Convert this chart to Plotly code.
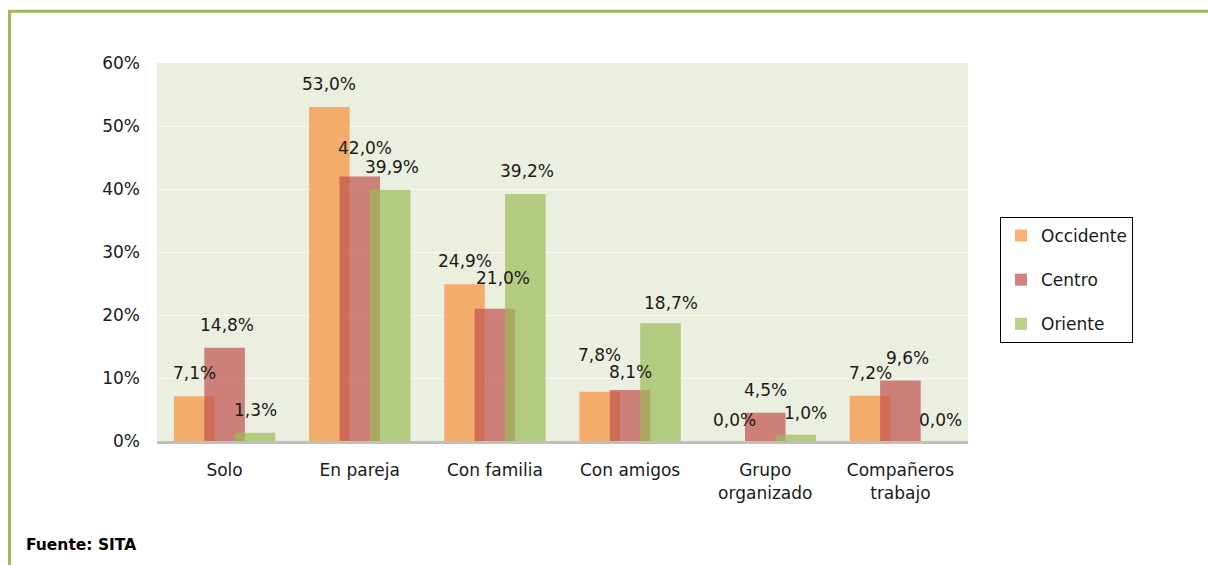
import plotly.graph_objects as go

categories = ["Solo", "En pareja", "Con familia", "Con amigos", "Grupo<br>organizado", "Compañeros<br>trabajo"]
series_names = ["Occidente", "Centro", "Oriente"]
occidente = [7.1, 53.0, 24.9, 7.8, 0.0, 7.2]
centro = [14.8, 42.0, 21.0, 8.1, 4.5, 9.6]
oriente = [1.3, 39.9, 39.2, 18.7, 1.0, 0.0]
y_ticks = [0, 10, 20, 30, 40, 50, 60]
y_tick_labels = ["0%", "10%", "20%", "30%", "40%", "50%", "60%"]

values = [occidente, centro, oriente]
colors = ["rgba(247,150,70,0.75)", "rgba(192,80,77,0.7)", "rgba(155,187,89,0.7)"]
offsets = [-0.375, -0.15, 0.075]
bar_w = 0.3

# label nudges (pixels) to mimic original placement: (series, category) -> (dx, dy)
label_nudge = {(1, 0): (2, 0), (1, 1): (5, 5), (2, 1): (2, 0), (1, 2): (8, 8),
               (2, 2): (2, 0), (0, 3): (0, 14), (1, 3): (0, -5), (2, 3): (10, -3),
               (0, 4): (0, -2), (2, 4): (10, -1), (1, 5): (7, 0), (2, 5): (10, -2)}

fig = go.Figure()
font = "DejaVu Sans"
fs = 17
for s, (name, vals) in enumerate(zip(series_names, values)):
    fig.add_trace(go.Bar(
        x=list(range(len(categories))), y=vals, name=name,
        marker=dict(color=colors[s], line=dict(width=0)),
        width=bar_w, offset=offsets[s], legendgroup=name,
    ))
    for i, v in enumerate(vals):
        dx, dy = label_nudge.get((s, i), (0, 0))
        fig.add_annotation(
            x=i + offsets[s] + bar_w / 2, y=v, xref="x", yref="y",
            text=f"{v:.1f}%".replace(".", ","), showarrow=False,
            yanchor="middle", yshift=23 + dy, xshift=dx,
            font=dict(family=font, size=fs, color="#1a1a1a"),
        )

W, H = 1208, 565
L, R, T, B = 157, 968, 63, 441
pw, ph = R - L, B - T
def px_x(p):
    return (p - L) / pw
def px_y(p):
    return (B - p) / ph

# green frame (top and left edges)
fig.add_shape(type="line", xref="paper", yref="paper", x0=px_x(9.5), x1=px_x(1210),
              y0=px_y(11.3), y1=px_y(11.3), line=dict(color="#9BBB59", width=3))
fig.add_shape(type="line", xref="paper", yref="paper", x0=px_x(9.5), x1=px_x(9.5),
              y0=px_y(10), y1=px_y(570), line=dict(color="#9BBB59", width=3))

fig.add_annotation(xref="paper", yref="paper", x=px_x(24), y=px_y(545),
                   xanchor="left", yanchor="middle", showarrow=False,
                   text="<b>Fuente: SITA</b>",
                   font=dict(family="DejaVu Sans", size=15.5, color="black"))

fig.update_layout(
    width=W, height=H,
    margin=dict(l=L, r=W - R, t=T, b=H - B, autoexpand=False),
    barmode="overlay",
    paper_bgcolor="white", plot_bgcolor="#EBEFDF",
    font=dict(family=font, size=fs, color="#1a1a1a"),
    showlegend=True,
    legend=dict(x=px_x(1000), y=px_y(217), xanchor="left", yanchor="top",
                bordercolor="black", borderwidth=1, bgcolor="white",
                font=dict(family=font, size=fs), tracegroupgap=19,
                itemwidth=30),
    xaxis=dict(tickmode="array", tickvals=list(range(len(categories))), ticktext=categories,
               range=[-0.5, len(categories) - 0.5], showgrid=False, ticks="",
               showline=True, linecolor="#BFBFBF", linewidth=3,
               ticklabelstandoff=12, tickfont=dict(size=fs)),
    yaxis=dict(range=[0, 60], tickvals=y_ticks, ticktext=y_tick_labels,
               showgrid=True, gridcolor="#F7F9F2", gridwidth=1,
               zeroline=False, ticks="", ticklabelstandoff=16, tickfont=dict(size=fs)),
)

fig.write_html("out.html", config={"displayModeBar": False},
               post_script="document.body.style.margin='0';")
